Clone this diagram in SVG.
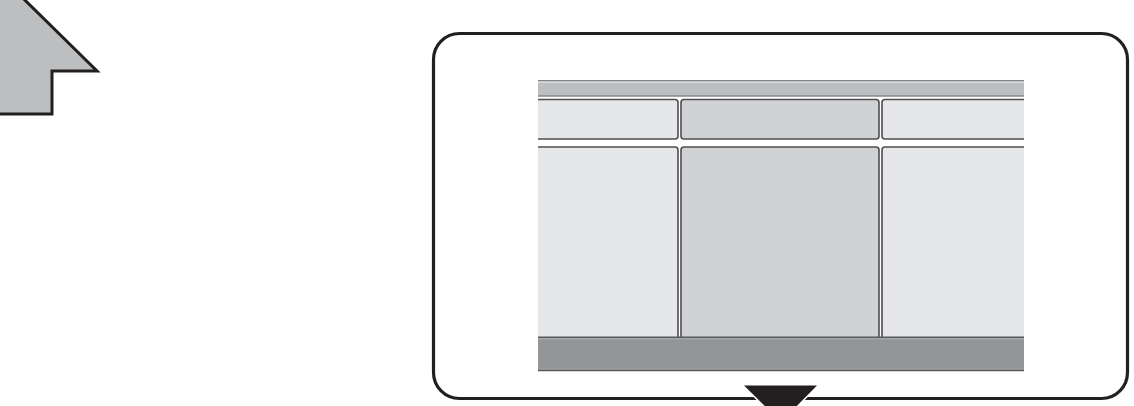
<svg xmlns="http://www.w3.org/2000/svg" width="1134" height="406" viewBox="0 0 1134 406">
<style>
.cellA{fill:#e6e7e8;stroke:#4d4d4f;stroke-width:1.6}
.cellB{fill:#d1d2d4;stroke:#4d4d4f;stroke-width:1.6}
</style>
<defs>
<clipPath id="scr"><rect x="538" y="75" width="486" height="300"/></clipPath>
</defs>
<rect width="1134" height="406" fill="#ffffff"/>
<g id="arrow">
<polygon fill="#bcbec0" stroke="#231f20" stroke-width="3" points="-24,-48 97,71 52,71 52,114 -10,114 -10,-48"/>
</g>
<g id="frame">
<rect x="433.5" y="33.5" width="694" height="365" rx="26" ry="26" fill="#ffffff" stroke="#231f20" stroke-width="3.2"/>
</g>
<g id="screen" clip-path="url(#scr)">
<rect x="538" y="80" width="486" height="16.5" fill="#bcbec0"/>
<line x1="538" y1="80.7" x2="1024" y2="80.7" stroke="#808285" stroke-width="1.4"/>
<line x1="538" y1="82" x2="1024" y2="82" stroke="#ffffff" stroke-width="0.8"/>
<line x1="538" y1="96" x2="1024" y2="96" stroke="#6d6e71" stroke-width="1.2"/>
<path class="cellA" d="M530,99.5 H675 a3,3 0 0 1 3,3 V136 a3,3 0 0 1 -3,3 H530 Z"/>
<rect class="cellB" x="681" y="99.5" width="198" height="39.5" rx="3" ry="3"/>
<path class="cellA" d="M1032,99.5 H885 a3,3 0 0 0 -3,3 V136 a3,3 0 0 0 3,3 H1032 Z"/>
<path class="cellA" d="M530,147 H675 a3,3 0 0 1 3,3 V345 H530 Z"/>
<path class="cellB" d="M681,345 V150 a3,3 0 0 1 3,-3 H876 a3,3 0 0 1 3,3 V345 Z"/>
<path class="cellA" d="M1032,147 H885 a3,3 0 0 0 -3,3 V345 H1032 Z"/>
<rect x="538" y="337" width="486" height="34" fill="#939598"/>
<line x1="538" y1="337.2" x2="1024" y2="337.2" stroke="#58595b" stroke-width="1.4"/>
<line x1="538" y1="338.8" x2="1024" y2="338.8" stroke="#bcbec0" stroke-width="0.7"/>
<line x1="538" y1="370.5" x2="1024" y2="370.5" stroke="#58595b" stroke-width="1.4"/>
<line x1="538" y1="369" x2="1024" y2="369" stroke="#a7a9ac" stroke-width="0.7"/>
</g>
<g id="pointer">
<polygon points="744,385.5 817,385.5 781,422" fill="#231f20" stroke="#ffffff" stroke-width="3" paint-order="stroke"/>
</g>
</svg>
